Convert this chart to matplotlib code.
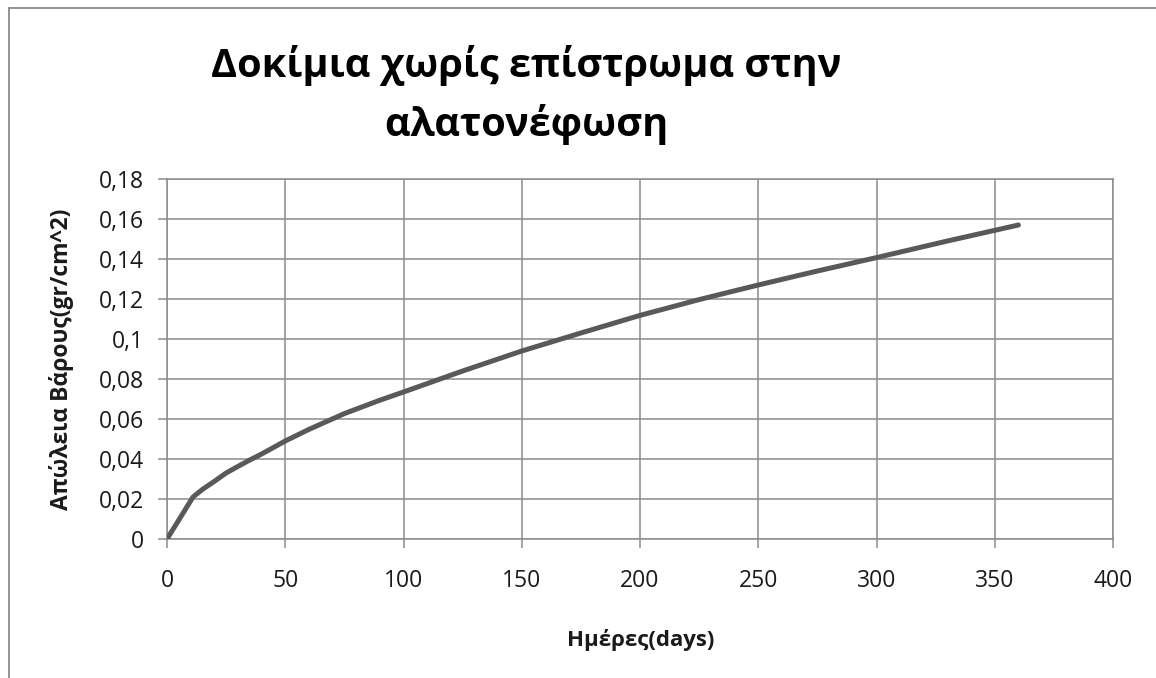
import matplotlib
matplotlib.use('Agg')
import matplotlib.pyplot as plt
import numpy as np
from matplotlib.lines import Line2D
from matplotlib.ticker import FuncFormatter, MultipleLocator

# weight loss of the uncoated specimens in the salt spray chamber
days = [0, 5, 11, 15, 20, 25, 30, 35, 40, 50, 60, 75, 90, 100, 125, 150, 175, 200,
        225, 250, 275, 300, 330, 360]
loss = [0, 0.0095, 0.021, 0.0248, 0.0288, 0.0330, 0.0363, 0.0395, 0.0425, 0.049, 0.0548,
        0.0627, 0.0694, 0.0735, 0.0840, 0.0940, 0.1030, 0.1118, 0.1197, 0.1270, 0.1340,
        0.1407, 0.1490, 0.157]

title = 'Δοκίμια χωρίς επίστρωμα στην\nαλατονέφωση'
xlabel = 'Ημέρες(days)'
ylabel = 'Απώλεια Βάρους(gr/cm^2)'

plt.rcParams['font.family'] = ['Open Sans', 'DejaVu Sans']

grid_col = '#8c8c8c'
W, H = 1156, 678

fig = plt.figure(figsize=(W / 100, H / 100), dpi=100)
ax = fig.add_axes([167 / W, 1 - 539 / H, (1113 - 167) / W, (539 - 179) / H])

ax.plot(days, loss, color='#595959', lw=3.6, solid_capstyle='round', solid_joinstyle='round', zorder=3)

ax.set_xlim(0, 400)
ax.set_ylim(0, 0.18)
ax.xaxis.set_major_locator(MultipleLocator(50))
ax.yaxis.set_major_locator(MultipleLocator(0.02))

def comma_fmt(v, pos):
    s = f'{v:.2f}'.rstrip('0').rstrip('.')
    return s.replace('.', ',')

ax.yaxis.set_major_formatter(FuncFormatter(comma_fmt))
ax.xaxis.set_major_formatter(FuncFormatter(lambda v, p: f'{v:.0f}'))

ax.grid(True, color=grid_col, lw=1.1)
ax.set_axisbelow(True)
for sp in ax.spines.values():
    sp.set_color(grid_col)
    sp.set_linewidth(1.1)
ax.tick_params(direction='out', length=6.5, width=1.1, color=grid_col,
               labelsize=16.5, labelcolor='#1a1a1a', pad=10)
ax.tick_params(axis='x', pad=15)

fig.text(641 / W, 1 - 640 / H, xlabel, ha='center', va='center',
         fontsize=16, fontweight='bold', color='#1a1a1a')
fig.text(62 / W, 1 - 359 / H, ylabel, ha='center', va='center', rotation=90,
         fontsize=16.5, fontweight='bold', color='#1a1a1a')
fig.text(526 / W, 1 - 95 / H, title, ha='center', va='center',
         fontsize=28.5, fontweight='bold', color='black', linespacing=1.55)

# chart frame (only left and top edges fall inside the image)
fig.add_artist(Line2D([9 / W, 9 / W], [0, 1 - 8 / H], color='#8a8a8a', lw=1.3))
fig.add_artist(Line2D([9 / W, 1], [1 - 8 / H, 1 - 8 / H], color='#8a8a8a', lw=1.3))

fig.savefig('out.png', dpi=100, facecolor='white')
